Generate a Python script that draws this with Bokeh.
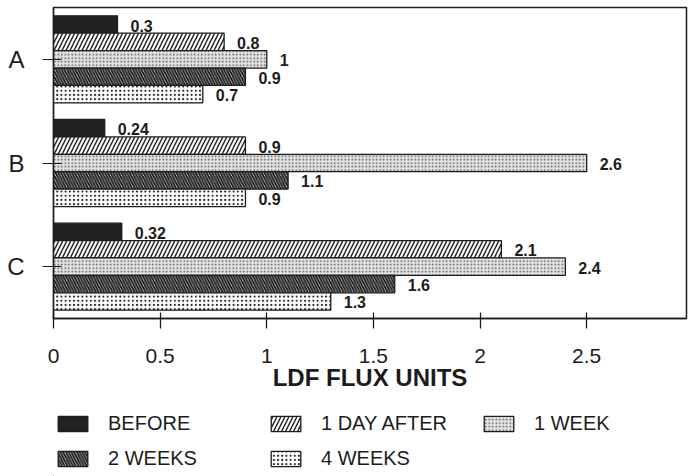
from bokeh.plotting import figure
from bokeh.layouts import column
from bokeh.models import (ColumnDataSource, FactorRange, Range1d, FixedTicker,
                          Legend, LegendItem)
from bokeh.transform import dodge
from bokeh.core.properties import value
from bokeh.embed import file_html
from bokeh.resources import INLINE

# ---- data ----
groups = ["A", "B", "C"]
series = ["BEFORE", "1 DAY AFTER", "1 WEEK", "2 WEEKS", "4 WEEKS"]
before = [0.3, 0.24, 0.32]
day_after = [0.8, 0.9, 2.1]
one_week = [1.0, 2.5, 2.4]
two_weeks = [0.9, 1.1, 1.6]
four_weeks = [0.7, 0.9, 1.3]
# printed value labels (as written on the chart)
before_lbl = ["0.3", "0.24", "0.32"]
day_after_lbl = ["0.8", "0.9", "2.1"]
one_week_lbl = ["1", "2.6", "2.4"]
two_weeks_lbl = ["0.9", "1.1", "1.6"]
four_weeks_lbl = ["0.7", "0.9", "1.3"]
x_ticks = [0, 0.5, 1, 1.5, 2, 2.5]

FONT = "Liberation Sans"
INK = "#1c1c1c"

p = figure(width=691, height=398, output_backend="svg", toolbar_location=None,
           y_range=FactorRange(factors=list(reversed(groups)), range_padding=0.0),
           x_range=Range1d(0, 2.968),
           min_border_left=53, min_border_right=5, min_border_top=7,
           min_border_bottom=80)
p.background_fill_color = "white"
p.border_fill_color = "white"
p.outline_line_color = INK
p.outline_line_width = 1.5
p.xgrid.visible = False
p.ygrid.visible = False

src = ColumnDataSource(dict(
    group=groups,
    before=before, day_after=day_after, one_week=one_week,
    two_weeks=two_weeks, four_weeks=four_weeks,
    before_lbl=before_lbl, day_after_lbl=day_after_lbl,
    one_week_lbl=one_week_lbl, two_weeks_lbl=two_weeks_lbl,
    four_weeks_lbl=four_weeks_lbl,
))

bh = 0.168
cols = ["before", "day_after", "one_week", "two_weeks", "four_weeks"]
styles = [
    dict(fill_color="#222222"),
    dict(fill_color="white", hatch_pattern="/", hatch_scale=8, hatch_weight=1.4, hatch_color=INK),
    dict(fill_color="#e3e3e3", hatch_pattern=".", hatch_scale=3.5, hatch_weight=1.2, hatch_color="#555555"),
    dict(fill_color="white", hatch_pattern="\\", hatch_scale=5.5, hatch_weight=2.0, hatch_color=INK),
    dict(fill_color="white", hatch_pattern=".", hatch_scale=4.2, hatch_weight=2.6, hatch_color=INK),
]

for i, (c, st) in enumerate(zip(cols, styles)):
    off = (2 - i) * bh
    p.hbar(y=dodge("group", off, range=p.y_range), right=c, left=0, height=bh,
           source=src, line_color=INK, line_width=1.3, **st)
    p.text(x=c, y=dodge("group", off, range=p.y_range), text=c + "_lbl", source=src,
           x_offset=13, y_offset=1, text_baseline="middle", text_align="left",
           text_font=value(FONT), text_font_size="16px", text_font_style="bold",
           text_color=INK)

xa = p.xaxis[0]
xa.ticker = FixedTicker(ticks=x_ticks)
xa.minor_tick_line_color = None
xa.major_tick_in = 6
xa.major_tick_out = 10
xa.axis_line_width = 1.3
xa.major_tick_line_width = 1.3
xa.axis_line_color = INK
xa.major_tick_line_color = INK
xa.major_label_text_font = FONT
xa.major_label_text_font_size = "21px"
xa.major_label_text_color = INK
xa.major_label_standoff = 20
xa.axis_label = "LDF FLUX UNITS"
xa.axis_label_text_font = FONT
xa.axis_label_text_font_size = "24px"
xa.axis_label_text_font_style = "bold"
xa.axis_label_text_color = INK
xa.axis_label_standoff = -2

ya = p.yaxis[0]
ya.major_tick_in = 8
ya.major_tick_out = 11
ya.minor_tick_line_color = None
ya.axis_line_width = 1.3
ya.major_tick_line_width = 1.2
ya.axis_line_color = INK
ya.major_tick_line_color = INK
ya.major_label_text_font = FONT
ya.major_label_text_font_size = "24px"
ya.major_label_text_color = INK
ya.major_label_standoff = 18

# ---- legend strip below the chart ----
lg = figure(width=691, height=78, output_backend="svg", toolbar_location=None,
            x_axis_location=None, y_axis_location=None,
            min_border_left=53, min_border_right=5, min_border_top=13,
            min_border_bottom=0, x_range=Range1d(0, 1), y_range=Range1d(0, 1))
lg.grid.visible = False
lg.outline_line_color = None
lg.background_fill_color = "white"
lg.border_fill_color = "white"

# legend key proxies (placed far outside the strip's visible ranges)
key_src = ColumnDataSource(dict(y=[-50.0], left=[-50.0], right=[-49.0]))
items = []
for name, st in zip(series, styles):
    r = lg.hbar(y="y", left="left", right="right", height=0.1, source=key_src,
                line_color=INK, line_width=1.3, **st)
    items.append(LegendItem(label=name, renderers=[r]))

legend = Legend(items=items, location="top_left", orientation="horizontal", ncols=3,
                glyph_width=37, glyph_height=19, label_standoff=17, label_width=147,
                spacing=12, padding=0, margin=1, border_line_alpha=0,
                background_fill_alpha=0,
                label_text_font=FONT, label_text_font_size="20px",
                label_text_color=INK)
lg.add_layout(legend, "center")

open("out.html", "w").write(file_html(column(p, lg, spacing=0), INLINE))
